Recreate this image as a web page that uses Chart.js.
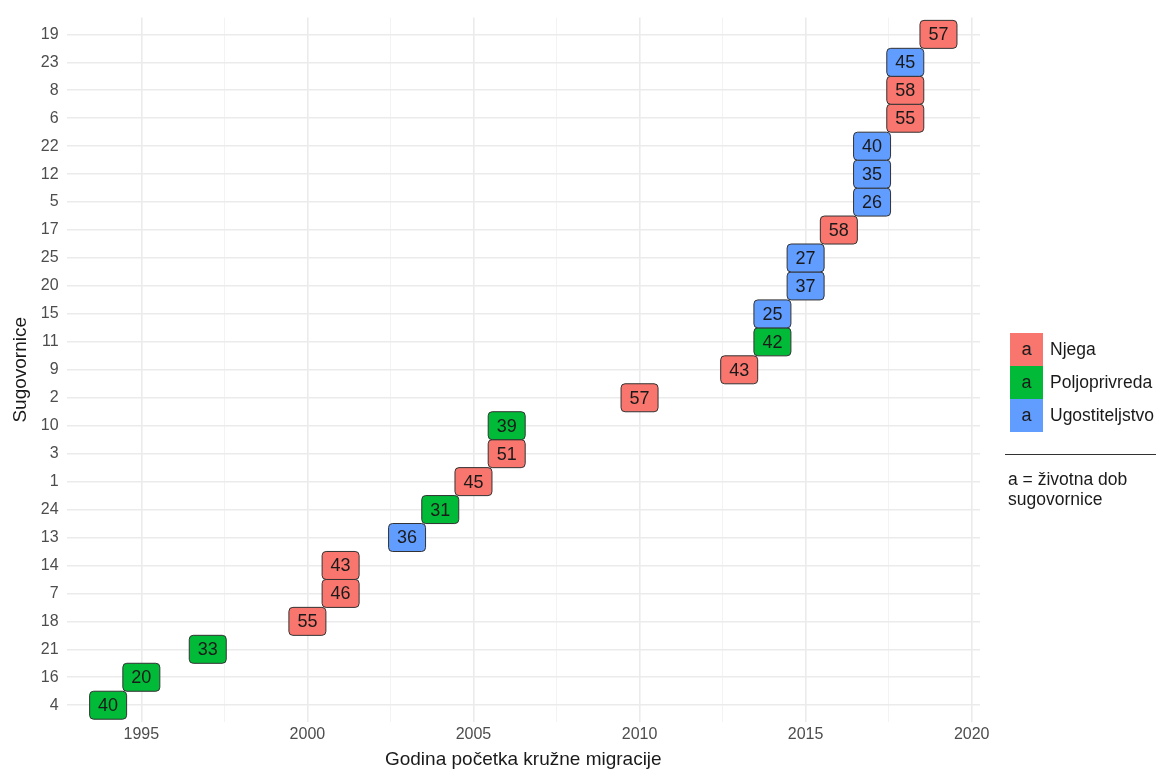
<!DOCTYPE html>
<html>
<head>
<meta charset="utf-8">
<script src="https://cdn.jsdelivr.net/npm/chart.js@4"></script>
<style>
  html, body { margin: 0; padding: 0; background: #fff; }
  #wrap { position: relative; width: 1156px; height: 769px; font-family: "Liberation Sans", Arial, sans-serif; }
  #chart { position: absolute; left: 0; top: 0; }
  .key { position: absolute; left: 1010px; width: 33px; height: 33px; font-size: 18px; line-height: 33px; text-align: center; color: #1a1a1a; }
  .keytxt { position: absolute; left: 1050px; font-size: 17.5px; color: #1a1a1a; line-height: 33px; }
  #rule { position: absolute; left: 1005px; top: 454px; width: 151px; height: 0; border-top: 1px solid #333; }
  #note { position: absolute; left: 1008px; top: 469px; font-size: 17.5px; color: #1a1a1a; line-height: 20px; }
</style>
</head>
<body>
<div id="wrap">
  <canvas id="chart" width="1156" height="769"></canvas>
  <div id="legend"></div>
  <div id="rule"></div>
  <div id="note">a = životna dob<br>sugovornice</div>
</div>
<script>
// bottom to top
const ids     = ['4','16','21','18','7','14','13','24','1','3','10','2','9','11','15','20','25','17','5','12','22','6','8','23','19'];
const years   = [1994,1995,1997,2000,2001,2001,2003,2004,2005,2006,2006,2010,2013,2014,2014,2015,2015,2016,2017,2017,2017,2018,2018,2018,2019];
const ages    = [40,20,33,55,46,43,36,31,45,51,39,57,43,42,25,37,27,58,26,35,40,55,58,45,57];
const sectors = ['P','P','P','N','N','N','U','P','N','N','P','N','N','P','U','U','U','N','U','U','U','N','N','U','N'];

const sectorKeys   = ['N', 'P', 'U'];
const sectorNames  = ['Njega', 'Poljoprivreda', 'Ugostiteljstvo'];
const sectorColors = ['#F8766D', '#00BA38', '#619CFF'];

const xTicks = [1995, 2000, 2005, 2010, 2015, 2020];
const xMinor = [1997.5, 2002.5, 2007.5, 2012.5, 2017.5];

const FONT = '"Liberation Sans", Arial, sans-serif';

const datasets = sectorKeys.map((k, si) => {
  const pts = [];
  ids.forEach((id, i) => {
    if (sectors[i] === k) pts.push({ x: years[i], y: i, age: ages[i] });
  });
  return { label: sectorNames[si], data: pts, backgroundColor: sectorColors[si], pointRadius: 0, pointHoverRadius: 0 };
});

const labelBoxes = {
  id: 'labelBoxes',
  afterDatasetsDraw(chart) {
    const c = chart.ctx;
    c.save();
    chart.data.datasets.forEach((ds, di) => {
      const meta = chart.getDatasetMeta(di);
      meta.data.forEach((el, j) => {
        const w = 37, h = 28;
        c.beginPath();
        c.roundRect(el.x - w / 2, el.y - h / 2, w, h, 4);
        c.fillStyle = ds.backgroundColor;
        c.fill();
        c.lineWidth = 1;
        c.strokeStyle = '#333';
        c.stroke();
        c.fillStyle = '#1a1a1a';
        c.font = '18px ' + FONT;
        c.textAlign = 'center';
        c.textBaseline = 'middle';
        c.fillText(String(ds.data[j].age), el.x, el.y + 1);
      });
    });
    c.restore();
  }
};

new Chart(document.getElementById('chart'), {
  type: 'scatter',
  data: { datasets },
  options: {
    responsive: false,
    animation: false,
    layout: { padding: { left: 9, right: 176, top: 12, bottom: 0 } },
    plugins: { legend: { display: false }, tooltip: { enabled: false } },
    scales: {
      x: {
        type: 'linear',
        min: 1992.75,
        max: 2020.25,
        afterBuildTicks(scale) {
          scale.ticks = xTicks.concat(xMinor).sort((a, b) => a - b).map(v => ({ value: v }));
        },
        grid: {
          drawTicks: false,
          color: ctx => xTicks.includes(ctx.tick && ctx.tick.value) ? '#ebebeb' : '#f3f3f3',
          lineWidth: ctx => xTicks.includes(ctx.tick && ctx.tick.value) ? 1.6 : 1
        },
        border: { display: false },
        ticks: {
          autoSkip: false,
          maxRotation: 0,
          padding: 5,
          color: '#4d4d4d',
          font: { family: FONT, size: 16, lineHeight: 1 },
          callback: v => xTicks.includes(v) ? String(v) : ''
        },
        title: { display: true, text: 'Godina početka kružne migracije', color: '#1a1a1a', font: { family: FONT, size: 19, lineHeight: 1 }, padding: { top: 2, bottom: 0 } }
      },
      y: {
        type: 'linear',
        min: -0.6,
        max: ids.length - 1 + 0.6,
        afterBuildTicks(scale) {
          scale.ticks = ids.map((_, i) => ({ value: i }));
        },
        grid: { drawTicks: false, color: '#ebebeb', lineWidth: 1.6 },
        border: { display: false },
        ticks: {
          autoSkip: false,
          padding: 8,
          color: '#4d4d4d',
          font: { family: FONT, size: 16 },
          callback: v => ids[v]
        },
        title: { display: true, text: 'Sugovornice', color: '#1a1a1a', font: { family: FONT, size: 19 }, padding: { top: 0, bottom: 1 } }
      }
    }
  },
  plugins: [labelBoxes]
});

const legend = document.getElementById('legend');
sectorNames.forEach((name, i) => {
  const top = 333 + i * 33;
  const k = document.createElement('div');
  k.className = 'key';
  k.style.top = top + 'px';
  k.style.background = sectorColors[i];
  k.textContent = 'a';
  legend.appendChild(k);
  const t = document.createElement('div');
  t.className = 'keytxt';
  t.style.top = top + 'px';
  t.textContent = name;
  legend.appendChild(t);
});
</script>
</body>
</html>
